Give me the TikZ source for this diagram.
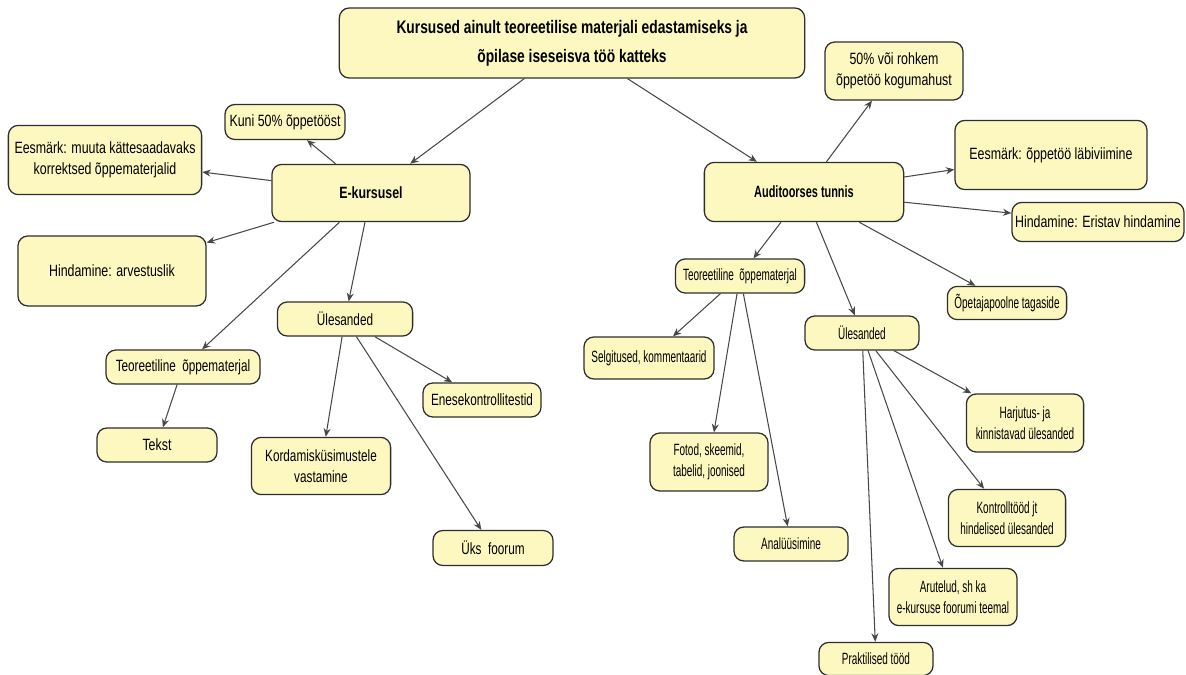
\documentclass[tikz,border=0pt]{standalone}
\RequirePackage{fontspec}
\setmainfont[FakeStretch=0.76]{Liberation Sans}
\newfontfamily\midfont[FakeStretch=0.72]{Liberation Sans}
\newfontfamily\tightfont[FakeStretch=0.67]{Liberation Sans}
\newfontfamily\narrowfont[FakeStretch=0.61]{Liberation Sans}
\RequirePackage{tikz}
\usetikzlibrary{arrows.meta}
\definecolor{conceptfill}{HTML}{FCF8C0}
\definecolor{conceptdraw}{HTML}{2E2E2E}
\definecolor{linkdraw}{HTML}{484848}
\tikzset{
    concept/.style={draw=conceptdraw,fill=conceptfill,line width=0.9pt,rounded corners=7pt,
        align=center,inner sep=2pt,font=\fontsize{11.6}{15}\selectfont},
    midtext/.style={font=\fontsize{11.6}{15}\midfont},
    smalltext/.style={font=\fontsize{11.6}{15}\narrowfont},
    link/.style={->,draw=linkdraw,line width=0.75pt}
}

\begin{document}
\begin{tikzpicture}[>={Stealth[length=6pt,width=5pt]},x=0.025cm,y=-0.025cm]
            \useasboundingbox (0,0) rectangle (1186,675);
            \node[concept,minimum width=11.63cm,minimum height=1.75cm,font=\fontsize{12.9}{20.5}\selectfont\bfseries] (root) at (572,43)
                {Kursused ainult teoreetilise materjali edastamiseks ja\\ õpilase iseseisva töö katteks};
            \node[concept,minimum width=4.95cm,minimum height=1.43cm,font=\fontsize{11.6}{15}\selectfont\bfseries] (ek) at (371,193) {E-kursusel};
            \node[concept,minimum width=4.98cm,minimum height=1.48cm,font=\fontsize{11.6}{15}\tightfont\bfseries] (at) at (804,192) {Auditoorses tunnis};
            \node[concept,minimum width=3cm,minimum height=0.875cm] (kuni) at (285,122) {Kuni 50\% õppetööst};
            \node[concept,minimum width=4.83cm,minimum height=1.73cm] (eesL) at (105,160) {Eesmärk: muuta kättesaadavaks\\ korrektsed õppematerjalid};
            \node[concept,minimum width=4.7cm,minimum height=1.75cm] (hindL) at (112,271) {Hindamine: arvestuslik};
            \node[concept,midtext,minimum width=3.38cm,minimum height=0.85cm] (ulL) at (345,319) {Ülesanded};
            \node[concept,midtext,minimum width=3.85cm,minimum height=0.85cm] (teoL) at (183,367) {Teoreetiline\ \ õppematerjal};
            \node[concept,minimum width=3cm,minimum height=0.85cm] (tekst) at (157,445) {Tekst};
            \node[concept,midtext,minimum width=3.48cm,minimum height=1.43cm] (korda) at (321,466) {Kordamisküsimustele\\ vastamine};
            \node[concept,midtext,minimum width=2.95cm,minimum height=0.85cm] (enese) at (482,400) {Enesekontrollitestid};
            \node[concept,midtext,minimum width=3cm,minimum height=0.875cm] (uks) at (493,548) {Üks\ \ foorum};
            \node[concept,minimum width=3.45cm,minimum height=1.45cm] (rohkem) at (894,71) {50\% või rohkem\\ õppetöö kogumahust};
            \node[concept,minimum width=4.8cm,minimum height=1.73cm] (eesR) at (1051,155) {Eesmärk: õppetöö läbiviimine};
            \node[concept,minimum width=4.3cm,minimum height=0.98cm] (hindR) at (1098,222) {Hindamine: Eristav hindamine};
            \node[concept,smalltext,minimum width=3.23cm,minimum height=0.85cm] (teoR) at (740,276) {Teoreetiline\ \ õppematerjal};
            \node[concept,smalltext,minimum width=2.98cm,minimum height=0.83cm] (opet) at (1007,303) {Õpetajapoolne tagaside};
            \node[concept,smalltext,minimum width=2.85cm,minimum height=0.85cm] (ulR) at (862,333) {Ülesanded};
            \node[concept,smalltext,minimum width=3.25cm,minimum height=1.05cm] (selg) at (649,358) {Selgitused, kommentaarid};
            \node[concept,smalltext,minimum width=2.95cm,minimum height=1.45cm] (fotod) at (709,462) {Fotod, skeemid,\\ tabelid, joonised};
            \node[concept,smalltext,minimum width=2.85cm,minimum height=0.85cm] (anal) at (791,544) {Analüüsimine};
            \node[concept,smalltext,minimum width=2.93cm,minimum height=1.45cm] (harj) at (1025,423) {Harjutus- ja\\ kinnistavad ülesanded};
            \node[concept,smalltext,minimum width=2.93cm,minimum height=1.43cm] (kontr) at (1007,518) {Kontrolltööd jt\\ hindelised ülesanded};
            \node[concept,smalltext,minimum width=3.2cm,minimum height=1.43cm] (arut) at (953,597) {Arutelud, sh ka\\ e-kursuse foorumi teemal};
            \node[concept,smalltext,minimum width=2.85cm,minimum height=0.83cm] (prakt) at (876,659) {Praktilised tööd};
            \foreach \from/\to in {root/ek,root/at,ek/kuni,ek/eesL,ek/hindL,ek/teoL,ek/ulL,teoL/tekst,
                ulL/korda,ulL/enese,ulL/uks,at/rohkem,at/eesR,at/hindR,at/teoR,at/ulR,at/opet,
                teoR/selg,teoR/fotod,teoR/anal,ulR/harj,ulR/kontr,ulR/arut,ulR/prakt}
                \draw[link] (\from) -- (\to);
        \end{tikzpicture}
\end{document}
